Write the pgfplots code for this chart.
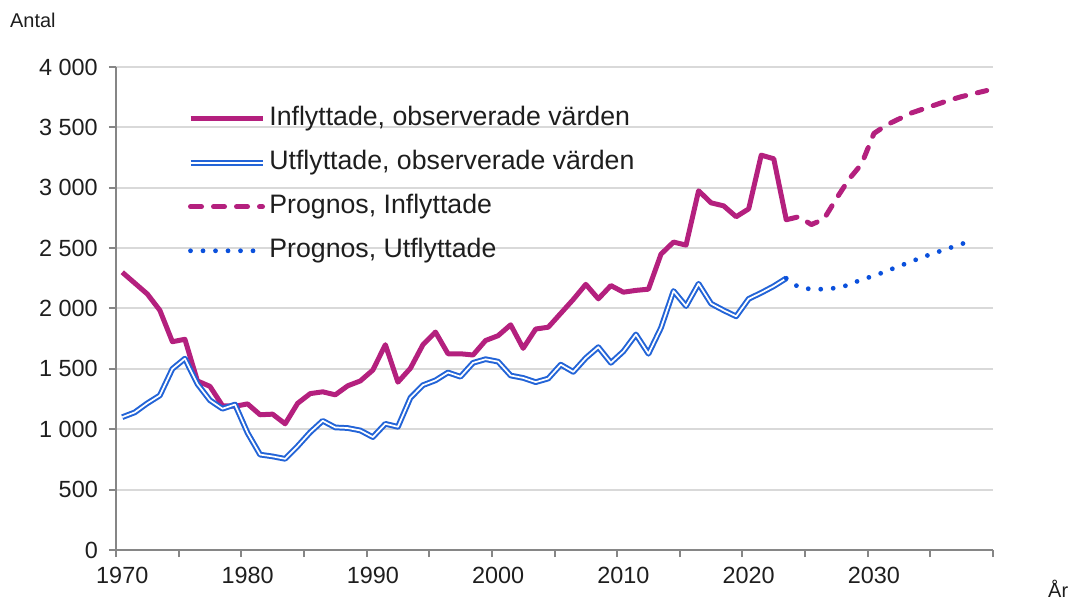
\documentclass[border=0pt]{standalone}
\usepackage{pgfplots}
\pgfplotsset{compat=1.18}
\usepackage{fontspec}
\setmainfont{Liberation Sans}
\definecolor{mag}{RGB}{180,32,126}
\definecolor{bluec}{RGB}{35,100,215}
\definecolor{dotblue}{RGB}{10,80,220}
\definecolor{axgray}{RGB}{134,134,134}
\definecolor{gridgray}{RGB}{217,217,217}
\definecolor{txt}{RGB}{30,30,30}
\begin{document}
\begin{tikzpicture}
\begin{axis}[
  scale only axis, width=877bp, height=483bp,
  at={(0,0)}, anchor=south west,
  xmin=1969.5, xmax=2039.5, ymin=0, ymax=4000,
  axis lines=left, axis line style={-, draw=axgray, line width=2bp},
  xtick={1969.5,1974.5,1979.5,1984.5,1989.5,1994.5,1999.5,2004.5,2009.5,2014.5,2019.5,2024.5,2029.5,2034.5,2039.5},
  xticklabels={},
  extra x ticks={1970,1980,1990,2000,2010,2020,2030},
  extra x tick labels={1970,1980,1990,2000,2010,2020,2030},
  extra x tick style={major tick length=0pt, grid=none},
  ytick={0,500,...,4000},
  ymajorgrids, grid style={line width=2bp, draw=gridgray},
  tick style={line width=2bp, draw=axgray},
  major tick length=7bp, tick align=outside,
  /pgf/number format/assume math mode=true,
  /pgf/number format/1000 sep={\ },
  ticklabel style={font=\fontsize{23.5}{27}\selectfont, text=txt},
  yticklabel style={inner sep=0pt, xshift=-11bp},
  xticklabel style={inner sep=0pt, yshift=-17bp},
  legend style={at={(0.0815,0.918)}, anchor=north west, draw=none, fill=none,
    inner sep=0pt, row sep=20bp, column sep=4bp,
    font=\fontsize{26.8}{30}\selectfont, text=txt,
    nodes={inner sep=0pt, text height=19bp, text depth=5bp}},
  legend cell align=left,
  legend image code/.code={\draw[#1] (0bp,0bp) -- (72bp,0bp);},
  line join=round,
  clip=false,
]
\addplot[draw=mag, line width=5bp] coordinates {
(1970,2300)(1971,2210)(1972,2120)(1973,1985)(1974,1725)(1975,1745)(1976,1400)(1977,1355)(1978,1195)(1979,1190)
(1980,1210)(1981,1120)(1982,1125)(1983,1045)(1984,1215)(1985,1295)(1986,1310)(1987,1285)(1988,1360)(1989,1400)
(1990,1490)(1991,1700)(1992,1390)(1993,1505)(1994,1700)(1995,1805)(1996,1625)(1997,1625)(1998,1615)(1999,1735)
(2000,1775)(2001,1865)(2002,1670)(2003,1830)(2004,1845)(2005,1960)(2006,2075)(2007,2200)(2008,2080)(2009,2190)
(2010,2135)(2011,2150)(2012,2160)(2013,2450)(2014,2550)(2015,2525)(2016,2975)(2017,2875)(2018,2850)(2019,2760)
(2020,2825)(2021,3270)(2022,3240)(2023,2735)};
\addlegendentry{Inflyttade, observerade värden}
\addplot[draw=bluec, line width=2bp, double=white, double distance=1.7bp] coordinates {
(1970,1100)(1971,1140)(1972,1215)(1973,1280)(1974,1500)(1975,1585)(1976,1375)(1977,1240)(1978,1170)(1979,1205)
(1980,970)(1981,790)(1982,775)(1983,755)(1984,860)(1985,975)(1986,1070)(1987,1015)(1988,1010)(1989,990)
(1990,935)(1991,1045)(1992,1020)(1993,1260)(1994,1365)(1995,1405)(1996,1470)(1997,1435)(1998,1550)(1999,1580)
(2000,1560)(2001,1445)(2002,1425)(2003,1390)(2004,1420)(2005,1535)(2006,1475)(2007,1590)(2008,1680)(2009,1550)
(2010,1645)(2011,1785)(2012,1625)(2013,1840)(2014,2145)(2015,2020)(2016,2205)(2017,2040)(2018,1985)(2019,1935)
(2020,2080)(2021,2130)(2022,2185)(2023,2250)};
\addlegendentry{Utflyttade, observerade värden}
\addplot[draw=mag, line width=5bp, line cap=round, dash pattern=on 11bp off 12bp] coordinates {
(2023,2735)(2024,2760)(2025,2695)(2026,2740)(2027,2910)(2028,3070)(2029,3195)(2030,3450)(2031,3520)(2032,3570)
(2033,3620)(2034,3655)(2035,3690)(2036,3725)(2037,3755)(2038,3780)(2039,3805)};
\addlegendentry{Prognos, Inflyttade}
\addplot[draw=dotblue, line width=4.8bp, line cap=round, dash pattern=on 0bp off 12.5bp] coordinates {
(2023,2250)(2024,2175)(2025,2160)(2026,2160)(2027,2170)(2028,2195)(2029,2240)(2030,2270)(2031,2310)(2032,2350)
(2033,2390)(2034,2430)(2035,2465)(2036,2500)(2037,2535)(2038,2565)};
\addlegendentry{Prognos, Utflyttade}
\end{axis}
\node[anchor=west, inner sep=0pt, text=txt, font=\fontsize{20}{24}\selectfont] at (-106bp,530bp) {Antal};
\node[anchor=west, inner sep=0pt, text=txt, font=\fontsize{20}{24}\selectfont] at (932bp,-39bp) {År};
\pgfresetboundingbox
\path[use as bounding box] (-116bp,-52bp) rectangle (968bp,550bp);
\end{tikzpicture}
\end{document}
